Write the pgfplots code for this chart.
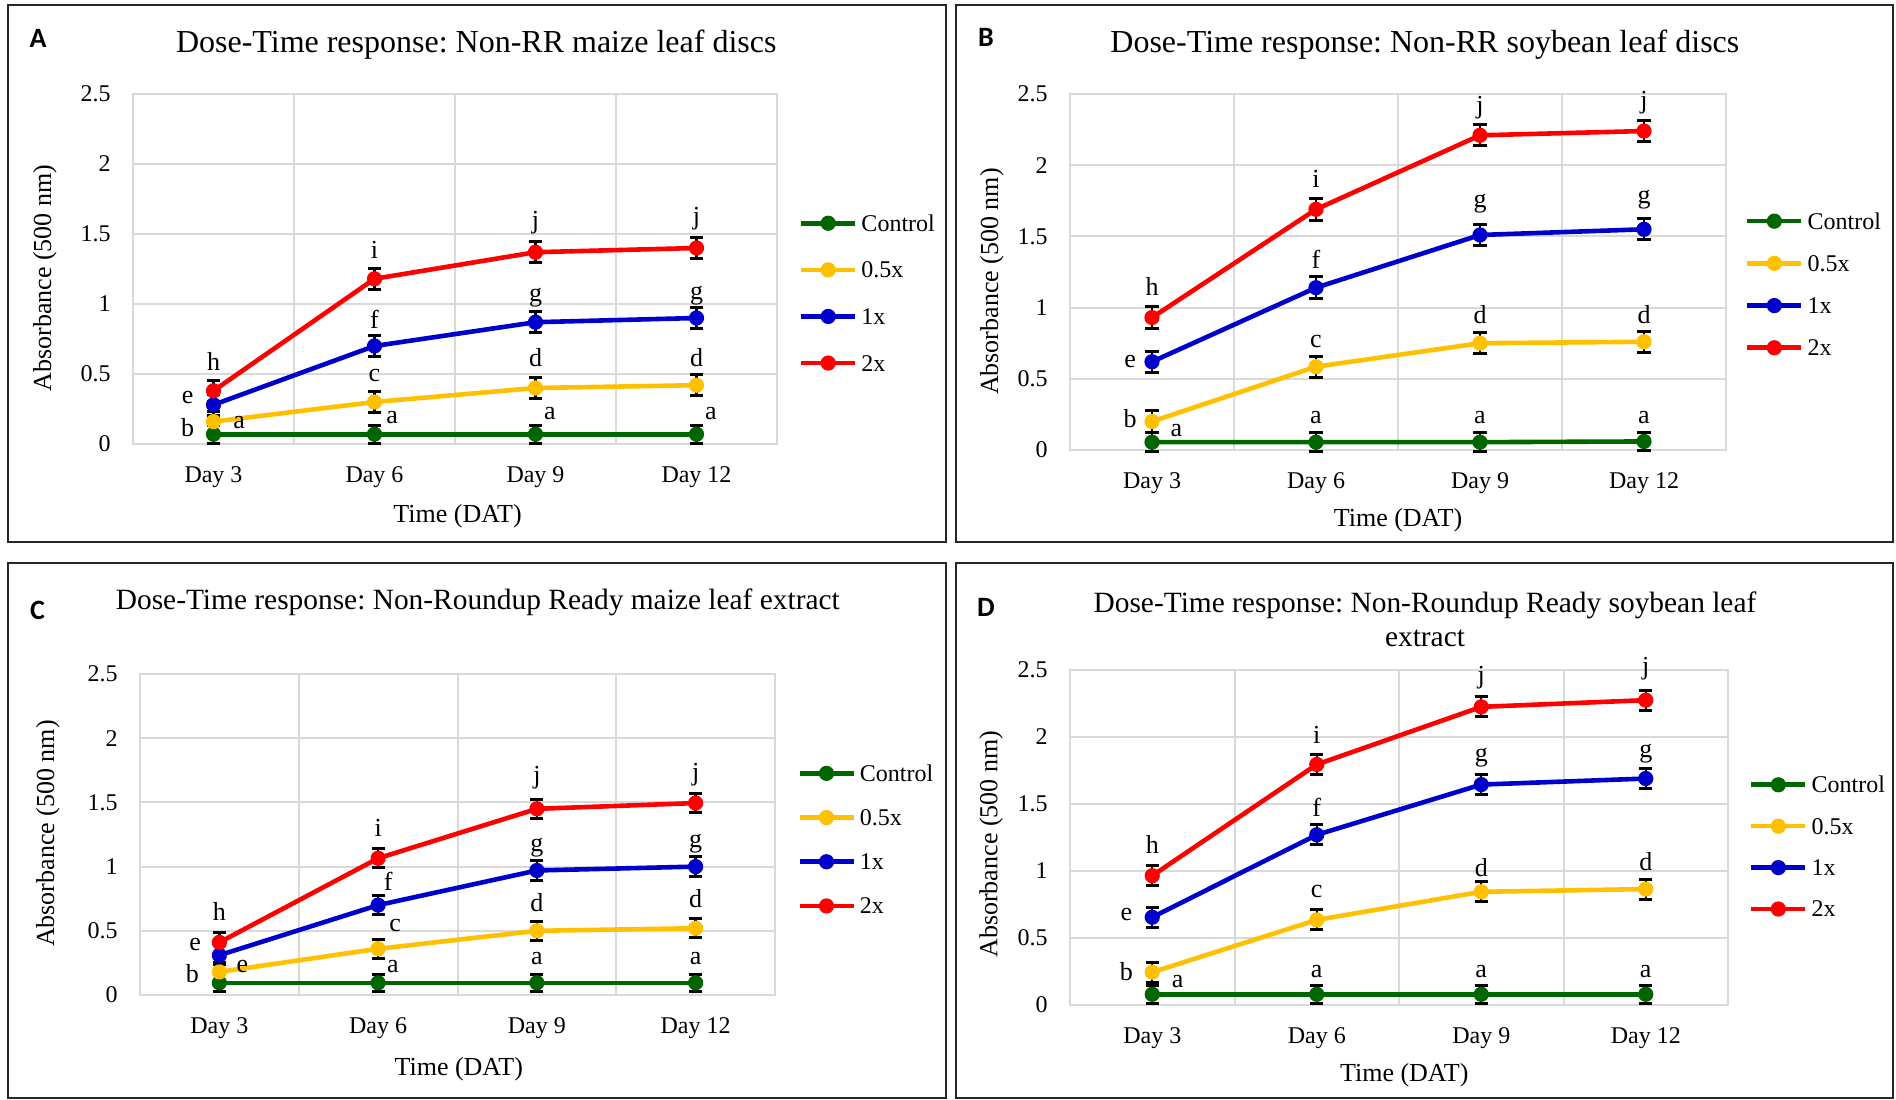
\documentclass[border=0pt]{standalone}
\usepackage{fontspec}
\setmainfont{Liberation Serif}
\newfontfamily\letterfont{Carlito}
\usepackage{pgfplots}
\pgfplotsset{compat=1.18}
\frenchspacing
\definecolor{cgreen}{RGB}{0,102,0}
\definecolor{cyellow}{RGB}{255,192,0}
\definecolor{cblue}{RGB}{0,0,204}
\definecolor{cred}{RGB}{255,0,0}
\definecolor{cgrid}{RGB}{217,217,217}
\newcommand{\fs}[1]{\fontsize{#1}{#1}\selectfont}
\newcommand{\lab}[3]{\node[font=\fs{13bp},inner sep=0pt] at (axis cs:#1,#2) {#3};}

\pgfplotsset{
  panel/.style={
    scale only axis, clip=false,
    xmin=0.5, xmax=4.5, ymin=0, ymax=2.5,
    xtick={1,2,3,4}, xticklabels={Day 3,Day 6,Day 9,Day 12},
    minor xtick={1.5,2.5,3.5},
    ytick={0,0.5,1,1.5,2,2.5}, yticklabels={0,0.5,1,1.5,2,2.5},
    xminorgrids=true, ymajorgrids=true, xmajorgrids=false,
    grid style={cgrid, line width=1bp},
    minor grid style={cgrid, line width=1bp},
    axis line style={cgrid, line width=1bp},
    major tick length=0pt, minor tick length=0pt,
    tick style={draw=none},
    xticklabel style={font=\fs{12bp}, anchor=center, inner sep=0pt, yshift=-16.8bp},
    yticklabel style={font=\fs{12bp}, anchor=east, inner sep=0pt, xshift=-11bp},
    xlabel={Time (DAT)}, ylabel={Absorbance (500 nm)},
    label style={font=\fs{13bp}},
    xlabel style={yshift=-2bp},
    title style={font=\fontsize{16bp}{17bp}\selectfont, anchor=center, yshift=-6pt, align=center},
    legend cell align=left,
    legend style={draw=none, fill=none, inner sep=0pt, outer sep=0pt, anchor=west,
      font=\fs{12bp}, nodes={inner xsep=2bp, inner ysep=0pt, text height=8bp, text depth=0bp}},
    legend image code/.code={\draw[mark repeat=2,mark phase=2,##1] plot coordinates {(0bp,0bp) (13.5bp,0bp) (27bp,0bp)};},
  },
  ser/.style={color=#1, line width=2.3bp, mark=*, mark size=3.3bp,
    mark options={solid, line width=1bp, fill=#1},
    error bars/.cd, y dir=both, y explicit,
    error bar style={black, line width=1.2bp},
    error mark options={rotate=90, black, line width=1.5bp, mark size=3.3bp}},
}

\begin{document}
\begin{tikzpicture}
\path[use as bounding box] (0,0) rectangle (948bp,-550bp);
\draw[black!85, line width=1bp] (4bp,-2.5bp) rectangle (473bp,-271bp);
\draw[black!85, line width=1bp] (478bp,-2.5bp) rectangle (946.5bp,-271bp);
\draw[black!85, line width=1bp] (4bp,-281.5bp) rectangle (473bp,-549bp);
\draw[black!85, line width=1bp] (478bp,-281.5bp) rectangle (946.5bp,-549bp);
\node[font=\letterfont\bfseries\fs{14bp}] at (19bp,-19bp) {A};
\node[font=\letterfont\bfseries\fs{14bp}] at (493bp,-18.8bp) {B};
\node[font=\letterfont\bfseries\fs{14bp}] at (18.8bp,-305bp) {C};
\node[font=\letterfont\bfseries\fs{14bp}] at (493bp,-303.5bp) {D};

% ---------------- A ----------------
\begin{axis}[panel, at={(66.5bp,-222bp)}, anchor=south west, width=322bp, height=175bp,
  title={Dose-Time response: Non-RR maize leaf discs},
  title style={at={(axis description cs:0.533,1.14)}},
  xlabel style={at={(axis description cs:0.504,-0.196)}, anchor=center},
  ylabel style={at={(axis description cs:-0.137,0.474)}, anchor=center},
  legend style={at={(axis description cs:1.034,0.431)}, row sep=15.3bp}]
\addplot[ser=cgreen] coordinates {(1,0.07) +- (0,0.065) (2,0.07) +- (0,0.065) (3,0.07) +- (0,0.065) (4,0.07) +- (0,0.065)};
\addlegendentry{Control}
\addplot[ser=cyellow] coordinates {(1,0.16) +- (0,0.075) (2,0.30) +- (0,0.075) (3,0.40) +- (0,0.075) (4,0.42) +- (0,0.075)};
\addlegendentry{0.5x}
\addplot[ser=cblue] coordinates {(1,0.28) +- (0,0.075) (2,0.70) +- (0,0.075) (3,0.87) +- (0,0.075) (4,0.90) +- (0,0.075)};
\addlegendentry{1x}
\addplot[ser=cred] coordinates {(1,0.38) +- (0,0.075) (2,1.18) +- (0,0.075) (3,1.37) +- (0,0.075) (4,1.40) +- (0,0.075)};
\addlegendentry{2x}
\lab{1}{0.589}{h} \lab{2}{1.389}{i} \lab{3}{1.582}{j} \lab{4}{1.612}{j}
\lab{3}{1.049}{g} \lab{4}{1.061}{g} \lab{2}{0.887}{f}
\lab{3}{0.614}{d} \lab{4}{0.614}{d} \lab{2}{0.49}{c}
\lab{0.84}{0.329}{e} \lab{0.84}{0.118}{b}
\lab{1.16}{0.155}{a} \lab{2.11}{0.192}{a} \lab{3.09}{0.217}{a} \lab{4.09}{0.217}{a}
\end{axis}

% ---------------- B ----------------
\begin{axis}[panel, at={(535bp,-225bp)}, anchor=south west, width=328bp, height=178bp,
  title={Dose-Time response: Non-RR soybean leaf discs},
  title style={at={(axis description cs:0.541,1.1376)}},
  xlabel style={at={(axis description cs:0.5,-0.185)}, anchor=center},
  ylabel style={at={(axis description cs:-0.119,0.473)}, anchor=center},
  legend style={at={(axis description cs:1.029,0.465)}, row sep=13.1bp}]
\addplot[ser=cgreen] coordinates {(1,0.055) +- (0,0.065) (2,0.055) +- (0,0.065) (3,0.055) +- (0,0.065) (4,0.06) +- (0,0.065)};
\addlegendentry{Control}
\addplot[ser=cyellow] coordinates {(1,0.20) +- (0,0.075) (2,0.585) +- (0,0.075) (3,0.75) +- (0,0.075) (4,0.76) +- (0,0.075)};
\addlegendentry{0.5x}
\addplot[ser=cblue] coordinates {(1,0.62) +- (0,0.075) (2,1.14) +- (0,0.075) (3,1.51) +- (0,0.075) (4,1.55) +- (0,0.075)};
\addlegendentry{1x}
\addplot[ser=cred] coordinates {(1,0.93) +- (0,0.075) (2,1.69) +- (0,0.075) (3,2.21) +- (0,0.075) (4,2.24) +- (0,0.075)};
\addlegendentry{2x}
\lab{1}{1.146}{h} \lab{2}{1.903}{i} \lab{3}{2.404}{j} \lab{4}{2.44}{j}
\lab{3}{1.732}{g} \lab{4}{1.756}{g} \lab{2}{1.341}{f}
\lab{3}{0.951}{d} \lab{4}{0.951}{d} \lab{2}{0.761}{c}
\lab{0.866}{0.621}{e} \lab{0.866}{0.219}{b}
\lab{1.148}{0.138}{a} \lab{2}{0.231}{a} \lab{3}{0.231}{a} \lab{4}{0.231}{a}
\end{axis}

% ---------------- C ----------------
\begin{axis}[panel, at={(70bp,-497.5bp)}, anchor=south west, width=317.5bp, height=160.5bp,
  title={Dose-Time response: Non-Roundup Ready maize leaf extract},
  title style={at={(axis description cs:0.532,1.224)}, font=\fontsize{14.7bp}{17bp}\selectfont},
  xlabel style={at={(axis description cs:0.502,-0.218)}, anchor=center},
  ylabel style={at={(axis description cs:-0.145,0.503)}, anchor=center},
  legend style={at={(axis description cs:1.035,0.484)}, row sep=14.1bp}]
\addplot[ser=cgreen] coordinates {(1,0.095) +- (0,0.065) (2,0.095) +- (0,0.065) (3,0.095) +- (0,0.065) (4,0.095) +- (0,0.065)};
\addlegendentry{Control}
\addplot[ser=cyellow] coordinates {(1,0.18) +- (0,0.075) (2,0.36) +- (0,0.075) (3,0.50) +- (0,0.075) (4,0.52) +- (0,0.075)};
\addlegendentry{0.5x}
\addplot[ser=cblue] coordinates {(1,0.31) +- (0,0.075) (2,0.70) +- (0,0.075) (3,0.97) +- (0,0.075) (4,1.00) +- (0,0.075)};
\addlegendentry{1x}
\addplot[ser=cred] coordinates {(1,0.41) +- (0,0.075) (2,1.065) +- (0,0.075) (3,1.45) +- (0,0.075) (4,1.495) +- (0,0.075)};
\addlegendentry{2x}
\lab{1}{0.653}{h} \lab{2}{1.303}{i} \lab{3}{1.69}{j} \lab{4}{1.719}{j}
\lab{3}{1.151}{g} \lab{4}{1.179}{g} \lab{2.063}{0.888}{f}
\lab{3}{0.717}{d} \lab{4}{0.75}{d} \lab{2.107}{0.543}{c}
\lab{0.847}{0.39}{e} \lab{0.83}{0.164}{b} \lab{1.145}{0.225}{e}
\lab{2.093}{0.225}{a} \lab{3}{0.285}{a} \lab{4}{0.285}{a}
\end{axis}

% ---------------- D ----------------
\begin{axis}[panel, at={(535bp,-502.5bp)}, anchor=south west, width=329bp, height=167.5bp,
  title={Dose-Time response: Non-Roundup Ready soybean leaf\\extract},
  title style={at={(axis description cs:0.5395,1.152)}, font=\fontsize{14.7bp}{17bp}\selectfont},
  xlabel style={at={(axis description cs:0.508,-0.197)}, anchor=center},
  ylabel style={at={(axis description cs:-0.12,0.48)}, anchor=center},
  legend style={at={(axis description cs:1.032,0.472)}, row sep=12.7bp}]
\addplot[ser=cgreen] coordinates {(1,0.08) +- (0,0.065) (2,0.08) +- (0,0.065) (3,0.08) +- (0,0.065) (4,0.08) +- (0,0.065)};
\addlegendentry{Control}
\addplot[ser=cyellow] coordinates {(1,0.245) +- (0,0.075) (2,0.635) +- (0,0.075) (3,0.845) +- (0,0.075) (4,0.865) +- (0,0.075)};
\addlegendentry{0.5x}
\addplot[ser=cblue] coordinates {(1,0.655) +- (0,0.075) (2,1.27) +- (0,0.075) (3,1.645) +- (0,0.075) (4,1.69) +- (0,0.075)};
\addlegendentry{1x}
\addplot[ser=cred] coordinates {(1,0.965) +- (0,0.075) (2,1.795) +- (0,0.075) (3,2.225) +- (0,0.075) (4,2.275) +- (0,0.075)};
\addlegendentry{2x}
\lab{1}{1.20}{h} \lab{2}{2.019}{i} \lab{3}{2.443}{j} \lab{4}{2.508}{j}
\lab{3}{1.848}{g} \lab{4}{1.875}{g} \lab{2}{1.478}{f}
\lab{3}{1.029}{d} \lab{4}{1.069}{d} \lab{2}{0.849}{c}
\lab{0.842}{0.672}{e} \lab{0.842}{0.25}{b}
\lab{1.155}{0.178}{a} \lab{2}{0.25}{a} \lab{3}{0.25}{a} \lab{4}{0.25}{a}
\end{axis}
\end{tikzpicture}
\end{document}
